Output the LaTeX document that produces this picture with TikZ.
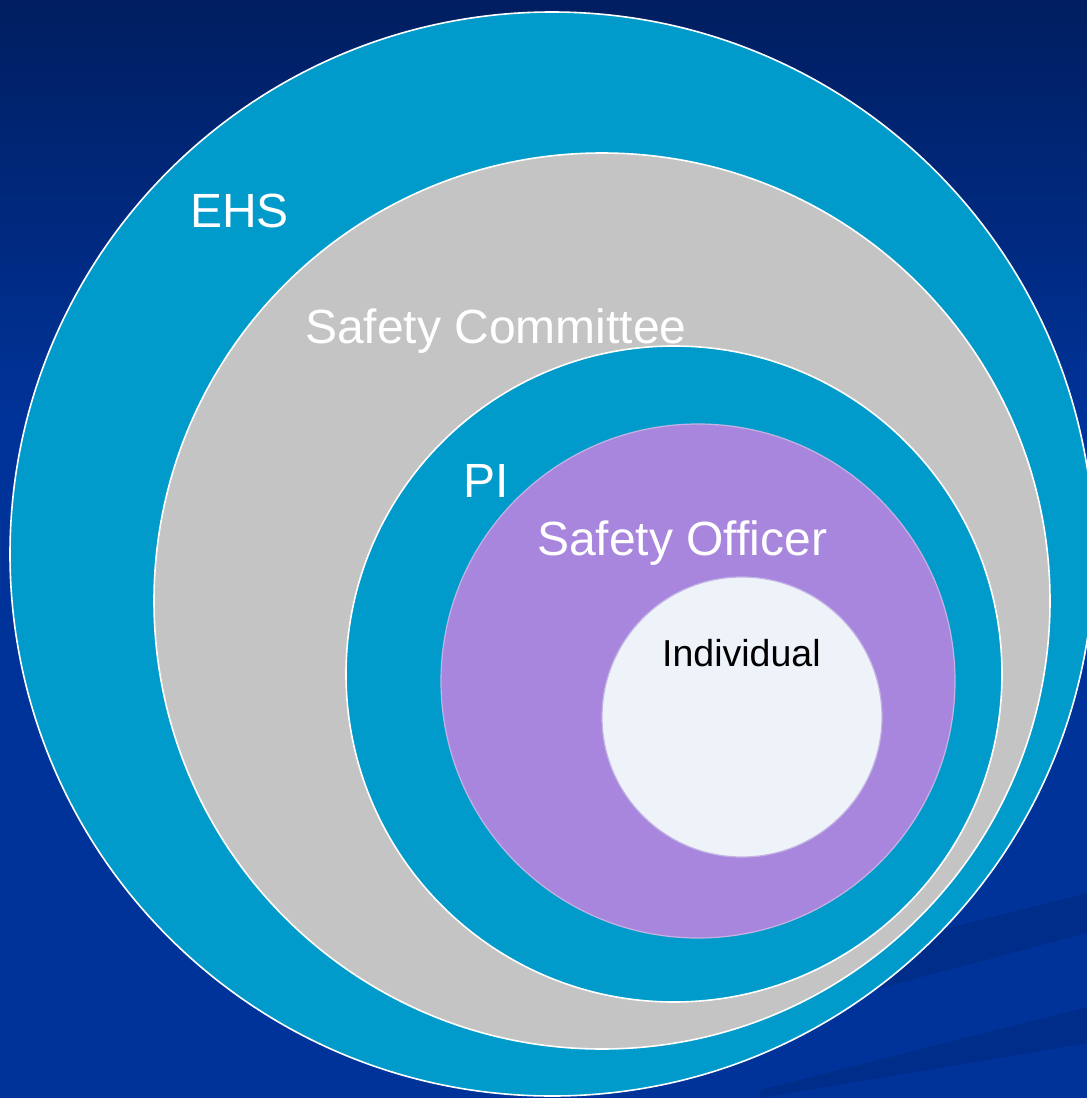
\documentclass[tikz,border=0pt]{standalone}
\usepackage{fontspec}
\setmainfont{Liberation Sans}
\usepackage{tikz}
\usetikzlibrary{positioning}
\definecolor{navytop}{HTML}{001E60}
\definecolor{navybot}{HTML}{003399}
\definecolor{streak}{HTML}{002D8A}
\definecolor{ringblue}{HTML}{009BCB}
\definecolor{ringgray}{HTML}{C4C4C4}
\definecolor{ringpurple}{HTML}{A886DE}
\definecolor{ringpale}{HTML}{EEF3FA}
\definecolor{lavender}{HTML}{C3B3E3}
\tikzset{
  ring/.style={circle, draw=white, line width=1.6pt, inner sep=0pt, minimum size=#1},
  softring/.style={ring=#1, draw=lavender, line width=1.2pt},
  tag/.style={anchor=base west, text=white, inner sep=0pt,
    font=\fontsize{48}{57}\selectfont},
}

\begin{document}
\begin{tikzpicture}[x=1pt,y=-1pt]
            \clip (0,0) rectangle (1087,1098);
            % background
            \fill[navybot] (0,0) rectangle (1087,1098);
            \shade[top color=navytop, bottom color=navybot] (0,0) rectangle (1087,420);
            \fill[streak] (760,1020) -- (1087,933) -- (1087,893) -- (760,975) -- cycle;
            \fill[streak] (760,1098) -- (1087,1043) -- (1087,1007) -- (760,1090) -- cycle;
            % rings
            \node[ring=1084pt, fill=ringblue] (ehs) at (552,554) {};
            \node[ring=896pt, fill=ringgray] (committee) at (602,601) {};
            \node[ring=656pt, fill=ringblue] (pi) at (674,674) {};
            \node[softring=514pt, fill=ringpurple] (officer) at (698,681) {};
            \node[softring=280pt, fill=ringpale] (individual) at (742,717) {};
            % labels
            \node[tag] (ehslabel) at (190,227) {EHS};
            \node[tag] (committeelabel) at (305,343) {Safety Committee};
            \node[tag] (pilabel) at (463,497) {PI};
            \node[tag] (officerlabel) at (537,555) {Safety Officer};
            \node[tag, text=black, font=\fontsize{37.5}{45}\selectfont] (individuallabel) at (662,666) {Individual};
        \end{tikzpicture}
\end{document}
